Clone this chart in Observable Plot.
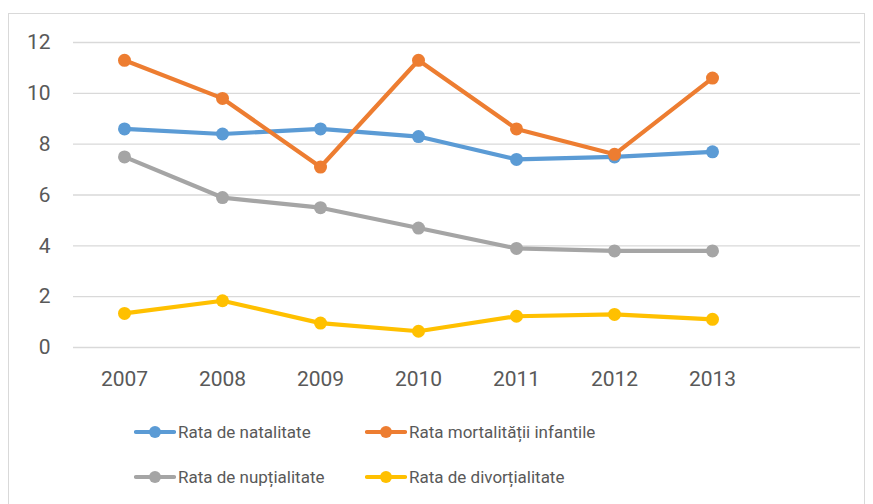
<!DOCTYPE html>
<html>
<head>
<meta charset="utf-8">
<script src="https://cdn.jsdelivr.net/npm/d3@7"></script>
<script src="https://cdn.jsdelivr.net/npm/@observablehq/plot@0.6"></script>
<style>
  html, body { margin: 0; padding: 0; background: #fff; }
  #wrap { position: relative; width: 873px; height: 504px; overflow: hidden; font-family: Roboto, "Open Sans", sans-serif; }
  #frame { position: absolute; left: 8px; top: 13px; width: 857px; height: 520px; border: 1px solid #D9D9D9; box-sizing: border-box; }
  #chart { position: absolute; left: 0; top: 0; }
  .leg { position: absolute; display: flex; align-items: center; font-size: 17px; color: #595959; white-space: nowrap; }
  .leg svg { margin-right: 2px; }
</style>
</head>
<body>
<div id="wrap">
  <div id="frame"></div>
  <div id="chart"></div>
</div>
<script>
const years = ["2007", "2008", "2009", "2010", "2011", "2012", "2013"];
const slots = ["2007", "2008", "2009", "2010", "2011", "2012", "2013", ""];
const seriesNames = ["Rata de natalitate", "Rata mortalității infantile", "Rata de nupțialitate", "Rata de divorțialitate"];
const natalitate = [8.6, 8.4, 8.6, 8.3, 7.4, 7.5, 7.7];
const mortalitate = [11.3, 9.8, 7.1, 11.3, 8.6, 7.6, 10.6];
const nuptialitate = [7.5, 5.9, 5.5, 4.7, 3.9, 3.8, 3.8];
const divortialitate = [1.34, 1.84, 0.96, 0.64, 1.23, 1.3, 1.11];
const colors = ["#5B9BD5", "#ED7D31", "#A5A5A5", "#FFC000"];
const yTicks = [0, 2, 4, 6, 8, 10, 12];

const seriesValues = [natalitate, mortalitate, nuptialitate, divortialitate];
const data = [];
seriesValues.forEach((vals, s) => {
  vals.forEach((v, i) => data.push({series: seriesNames[s], year: years[i], value: v}));
});

const plot = Plot.plot({
  width: 873,
  height: 390,
  marginLeft: 73,
  marginRight: 13,
  marginTop: 42,
  marginBottom: 43,
  style: {fontFamily: "Roboto, 'Open Sans', sans-serif", color: "#595959", background: "transparent"},
  x: {type: "band", domain: slots, padding: 0},
  y: {domain: [0, 12]},
  color: {domain: seriesNames, range: colors},
  marks: [
    Plot.ruleY(yTicks, {stroke: "#D9D9D9", strokeWidth: 1.3, strokeOpacity: 1}),
    Plot.axisY({ticks: yTicks, tickSize: 0, tickPadding: 23, fontSize: 21, fill: "#595959", label: null}),
    Plot.axisX({ticks: years, tickSize: 0, tickPadding: 24, fontSize: 21, fill: "#595959", label: null}),
    ...seriesNames.map((name, s) => Plot.line(data.filter(d => d.series === name), {x: "year", y: "value", stroke: colors[s], strokeWidth: 4.2})),
    ...seriesNames.map((name, s) => Plot.dot(data.filter(d => d.series === name), {x: "year", y: "value", fill: colors[s], r: 6.5, stroke: "none"}))
  ]
});
document.getElementById("chart").appendChild(plot);

const legendPos = [[134, 432], [365, 432], [134, 477], [365, 477]];
const wrap = document.getElementById("wrap");
seriesNames.forEach((name, s) => {
  const div = document.createElement("div");
  div.className = "leg";
  div.style.left = legendPos[s][0] + "px";
  div.style.top = (legendPos[s][1] - 10) + "px";
  div.style.height = "20px";
  div.innerHTML = `<svg width="42" height="20"><line x1="2" y1="10" x2="40" y2="10" stroke="${colors[s]}" stroke-width="4.2" stroke-linecap="round"/><circle cx="21" cy="10" r="6" fill="${colors[s]}"/></svg><span>${name}</span>`;
  wrap.appendChild(div);
});
</script>
</body>
</html>
